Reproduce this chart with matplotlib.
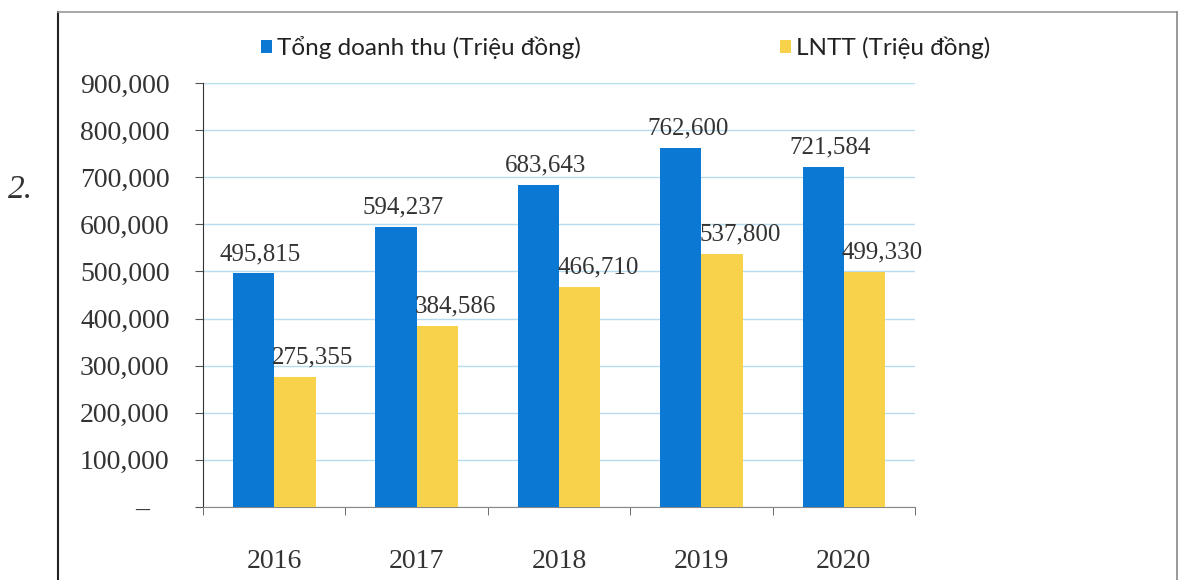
import numpy as np
import matplotlib
matplotlib.use("Agg")
import matplotlib.pyplot as plt
from matplotlib.lines import Line2D
from matplotlib.ticker import FuncFormatter

years = ["2016", "2017", "2018", "2019", "2020"]
doanh_thu = [495815, 594237, 683643, 762600, 721584]
lntt = [275355, 384586, 466710, 537800, 499330]
labels_dt = ["495,815", "594,237", "683,643", "762,600", "721,584"]
labels_ln = ["275,355", "384,586", "466,710", "537,800", "499,330"]

blue = "#0b79d3"
yellow = "#f8d24a"
serif = "Liberation Serif"

fig = plt.figure(figsize=(11.81, 5.80), dpi=100)
ax = fig.add_axes([0.1719, 0.1259, 0.6029, 0.731])

x = np.arange(len(years))
w = 0.29
b1 = ax.bar(x - w / 2, doanh_thu, w, color=blue, label="Tổng doanh thu (Triệu đồng)", zorder=3)
b2 = ax.bar(x + w / 2, lntt, w, color=yellow, label="LNTT (Triệu đồng)", zorder=3)

# data labels
for xi, v, t in zip(x, doanh_thu, labels_dt):
    ax.annotate(t, (xi - w / 2, v), xytext=(5, 6), textcoords="offset points",
                ha="center", va="bottom", fontsize=18, family=serif, color="#333333")
for xi, v, t in zip(x, lntt, labels_ln):
    ax.annotate(t, (xi + w / 2, v), xytext=(13, 6), textcoords="offset points",
                ha="center", va="bottom", fontsize=18, family=serif, color="#333333")

ax.set_xlim(-0.5, len(years) - 0.5)
ax.set_ylim(0, 900000)
ax.set_yticks(np.arange(0, 900001, 100000))
ax.yaxis.set_major_formatter(FuncFormatter(lambda v, p: "–   " if v == 0 else f"{int(v):,}"))
ax.grid(axis="y", color="#b5dcef", lw=1, zorder=0)
ax.set_axisbelow(True)

ax.set_xticks(x)
ax.set_xticklabels(years, family=serif, fontsize=20, color="#333333")
ax.set_xticks(np.arange(-0.5, len(years)), minor=True)
ax.tick_params(axis="x", which="major", length=0, pad=30)
ax.tick_params(axis="x", which="minor", length=6, color="#555555")
ax.tick_params(axis="y", length=6, pad=18, color="#555555", labelsize=20, labelcolor="#333333")
for lab in ax.get_yticklabels():
    lab.set_family(serif)

for s in ["top", "right"]:
    ax.spines[s].set_visible(False)
ax.spines["left"].set_color("#333333")
ax.spines["bottom"].set_color("#888888")

leg = fig.legend(handles=[b1, b2], loc="center", bbox_to_anchor=(0.53, 0.918), ncol=2,
                 frameon=False, prop={"family": "Lato", "size": 17.5}, handlelength=0.45,
                 handleheight=0.45, handletextpad=0.2, columnspacing=8.2)
for t in leg.get_texts():
    t.set_color("#222222")

# frame of the scanned page
fig.add_artist(Line2D([58 / 1181, 58 / 1181], [0, 1 - 12 / 580], color="#222222", lw=1.5))
fig.add_artist(Line2D([58 / 1181, 1177 / 1181], [1 - 12 / 580, 1 - 12 / 580], color="#999999", lw=1.2))
fig.add_artist(Line2D([1177 / 1181, 1177 / 1181], [0, 1 - 12 / 580], color="#888888", lw=1.2))
fig.text(8 / 1181, 1 - 190 / 580, "2.", family=serif, style="italic", fontsize=24,
         va="center", ha="left", color="#333333")

fig.savefig("out.png", dpi=100)
